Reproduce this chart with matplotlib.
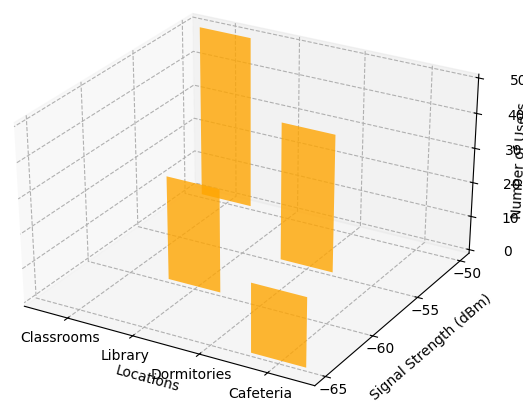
import matplotlib
matplotlib.use("Agg")
import matplotlib.pyplot as plt
import numpy as np

locations = ['Classrooms', 'Library', 'Dormitories', 'Cafeteria']
signal_strength = [-50, -60, -55, -65]
users = [50, 30, 40, 20]
y_ticks = [-65, -60, -55, -50]
z_ticks = [0, 10, 20, 30, 40, 50]

plt.rcParams['grid.linestyle'] = '--'

fig = plt.figure(figsize=(5.23, 4.01), dpi=100)
ax = fig.add_axes([-0.028, -0.03, 0.9885, 1.08], projection='3d')
# keep the axes box as given (stretched, like the reference)
ax.apply_aspect = lambda position=None: None

x = np.arange(len(locations))
ax.bar(x, users, zs=signal_strength, zdir='y', color='orange', alpha=0.8)

ax.set_xticks(x)
ax.set_xticklabels(locations)
ax.set_yticks(y_ticks)
ax.set_zticks(z_ticks)
ax.tick_params(axis='x', pad=-0.3)
ax.tick_params(axis='y', pad=-3.5)
ax.tick_params(axis='z', pad=8)
ax.set_xlabel('Locations', labelpad=-2)
ax.set_ylabel('Signal Strength (dBm)', labelpad=1)
ax.set_zlabel('Number of Users', labelpad=-2)

fig.savefig('out.png', dpi=100)
